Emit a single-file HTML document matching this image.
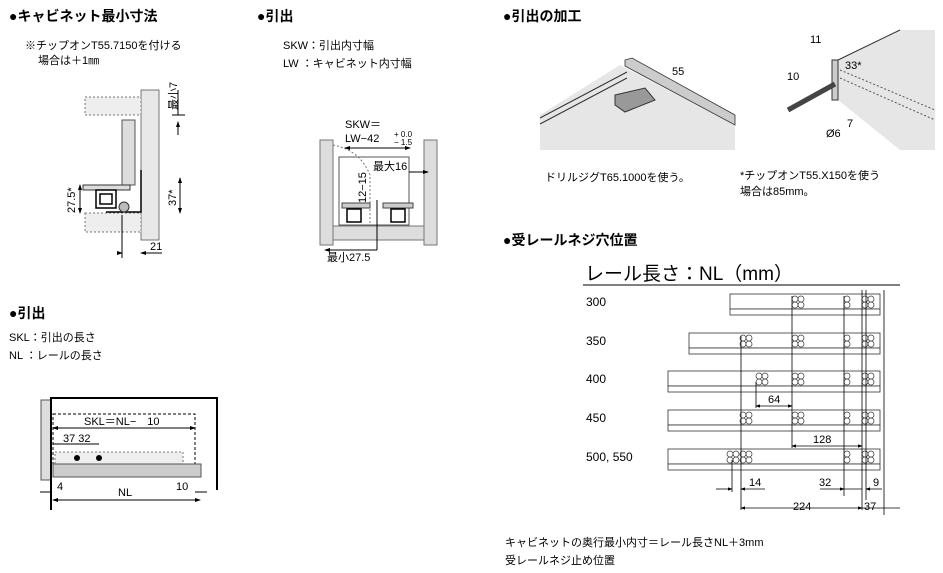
<!DOCTYPE html>
<html><head><meta charset="utf-8"><style>
body{margin:0;background:#fff;width:943px;height:573px;overflow:hidden}
svg{display:block;font-family:"Liberation Sans","Noto Sans CJK JP",sans-serif}
.t{font-weight:bold;font-size:14px}
.s{font-size:11px}
.d{font-size:11px}
</style></head><body>
<svg width="943" height="573" viewBox="0 0 943 573" xmlns="http://www.w3.org/2000/svg">
<defs>
<marker id="a" markerWidth="6" markerHeight="6" refX="5" refY="3" orient="auto"><path d="M0,1 L6,3 L0,5z" fill="#000"/></marker>
<marker id="b" markerWidth="6" markerHeight="6" refX="1" refY="3" orient="auto"><path d="M6,1 L0,3 L6,5z" fill="#000"/></marker>
</defs>
<!-- titles -->
<text x="9" y="21" class="t">●キャビネット最小寸法</text>
<text x="257" y="21" class="t">●引出</text>
<text x="503" y="21" class="t">●引出の加工</text>
<text x="503" y="245" class="t">●受レールネジ穴位置</text>
<text x="9" y="318" class="t">●引出</text>

<!-- section 1 -->
<text x="25" y="49" class="s">※チップオンT55.7150を付ける</text>
<text x="38" y="64" class="s">場合は＋1㎜</text>
<rect x="141" y="90" width="18" height="150" fill="#e8e8e8" stroke="#555" stroke-width="0.8"/>
<rect x="85" y="97" width="56" height="18" fill="#eee" stroke="#777" stroke-dasharray="2,2"/>
<rect x="85" y="213" width="56" height="19" fill="#eee" stroke="#777" stroke-dasharray="2,2"/>
<rect x="122" y="120" width="13" height="65" fill="#ddd" stroke="#555"/>
<path d="M83,185 L130,185 L130,190 L83,190z" fill="#ddd" stroke="#333"/>
<path d="M96,190 h20 v18 h-20z M100,194 h12 v10 h-12z" fill="#fff" stroke="#000" stroke-width="1.5"/>
<path d="M106,212 L141,212 L141,170" fill="none" stroke="#000" stroke-width="1.5"/>
<ellipse cx="124" cy="207" rx="5" ry="5" fill="#bbb" stroke="#333"/>
<line x1="178" y1="115" x2="178" y2="90" stroke="#000"/><line x1="172" y1="115" x2="185" y2="115" stroke="#000"/>
<text x="0" y="0" class="d" transform="translate(177,110) rotate(-90)">最小7</text>
<line x1="178" y1="122" x2="178" y2="135" stroke="#000" marker-start="url(#b)"/>
<line x1="80" y1="185" x2="80" y2="213" stroke="#000" marker-start="url(#b)" marker-end="url(#a)"/>
<text x="0" y="0" class="d" transform="translate(75,213) rotate(-90)">27.5*</text>
<line x1="180" y1="178" x2="180" y2="213" stroke="#000" marker-start="url(#b)" marker-end="url(#a)"/>
<text x="0" y="0" class="d" transform="translate(176,206) rotate(-90)">37*</text>
<line x1="122" y1="215" x2="122" y2="258" stroke="#000"/>
<line x1="118" y1="253" x2="122" y2="253" stroke="#000" marker-end="url(#a)"/>
<line x1="141" y1="253" x2="162" y2="253" stroke="#000" marker-start="url(#b)"/>
<text x="150" y="250" class="d">21</text>

<!-- section 2 -->
<text x="283" y="49" class="s">SKW：引出内寸幅</text>
<text x="283" y="67" class="s">LW ：キャビネット内寸幅</text>
<rect x="320" y="140" width="13" height="105" fill="#ddd" stroke="#777"/>
<rect x="424" y="140" width="13" height="105" fill="#ddd" stroke="#777"/>
<rect x="333" y="226" width="91" height="14" fill="#ddd" stroke="#777"/>
<rect x="339" y="157" width="70" height="68" fill="#fff" stroke="#555"/>
<path d="M333,145 Q360,150 370,175 L370,225" fill="none" stroke="#777" stroke-dasharray="2,2"/>
<rect x="342" y="203" width="28" height="5" fill="#ccc" stroke="#444"/>
<rect x="383" y="203" width="30" height="5" fill="#ccc" stroke="#444"/>
<rect x="347" y="209" width="14" height="13" fill="#fff" stroke="#000" stroke-width="1.5"/>
<rect x="391" y="209" width="14" height="13" fill="#fff" stroke="#000" stroke-width="1.5"/>
<text x="345" y="128" class="d">SKW＝</text>
<text x="345" y="142" class="d">LW−42</text>
<text x="394" y="137" font-size="8">+ 0.0</text>
<text x="394" y="145" font-size="8">− 1.5</text>
<line x1="345" y1="148" x2="410" y2="148" stroke="#000" marker-start="url(#b)" marker-end="url(#a)"/>
<text x="373" y="170" class="d">最大16</text>
<line x1="409" y1="172" x2="428" y2="172" stroke="#000" marker-end="url(#a)"/>
<text x="0" y="0" class="d" transform="translate(366,203) rotate(-90)">12−15</text>
<line x1="377" y1="200" x2="377" y2="250" stroke="#000"/>
<text x="327" y="261" class="d">最小27.5</text>
<line x1="325" y1="250" x2="377" y2="250" stroke="#000" marker-start="url(#b)"/>

<!-- section 3 -->
<polygon points="540,115 620,65 735,125 735,150 540,150" fill="#e6e6e6"/>
<polygon points="625,60 632,58 735,115 735,125 625,66" fill="#ccc" stroke="#333" stroke-width="0.8"/>
<line x1="540" y1="118" x2="627" y2="72" stroke="#333"/>
<line x1="540" y1="124" x2="627" y2="78" stroke="#333"/>
<path d="M615,95 L645,88 L655,100 L625,112 L615,105z" fill="#999" stroke="#333"/>
<text x="672" y="75" class="d">55</text>
<polygon points="837,60 900,30 935,30 935,150 900,150 838,100" fill="#e6e6e6"/>
<rect x="832" y="60" width="6" height="40" fill="#ccc" stroke="#333"/>
<line x1="838" y1="60" x2="900" y2="30" stroke="#333"/>
<line x1="840" y1="70" x2="935" y2="110" stroke="#555" stroke-dasharray="2,2"/>
<line x1="840" y1="78" x2="935" y2="120" stroke="#555" stroke-dasharray="2,2"/>
<line x1="788" y1="110" x2="835" y2="84" stroke="#444" stroke-width="5"/>
<text x="810" y="43" class="d">11</text>
<text x="787" y="80" class="d">10</text>
<text x="845" y="69" class="d">33*</text>
<text x="826" y="137" class="d">Ø6</text>
<text x="847" y="127" class="d">7</text>
<text x="545" y="181" class="s">ドリルジグT65.1000を使う。</text>
<text x="740" y="179" class="s">*チップオンT55.X150を使う</text>
<text x="740" y="195" class="s">場合は85mm。</text>

<!-- section 4 -->
<text x="585" y="280" font-size="19">レール長さ：NL（mm）</text>
<line x1="583" y1="285" x2="900" y2="285" stroke="#000"/>
<g font-size="12">
<text x="586" y="306">300</text><text x="586" y="345">350</text><text x="586" y="383">400</text><text x="586" y="422">450</text><text x="586" y="461">500, 550</text>
</g>
<g fill="#fff" stroke="#333" stroke-width="0.8">
<rect x="730" y="294" width="150" height="15"/><rect x="730" y="309" width="150" height="6"/>
<rect x="689" y="333" width="191" height="15"/><rect x="689" y="348" width="191" height="6"/>
<rect x="668" y="371" width="212" height="15"/><rect x="668" y="386" width="212" height="6"/>
<rect x="668" y="410" width="212" height="15"/><rect x="668" y="425" width="212" height="6"/>
<rect x="668" y="449" width="212" height="15"/><rect x="668" y="464" width="212" height="6"/>
</g>
<g fill="none" stroke="#444" stroke-width="0.8">
<circle cx="795" cy="299" r="3"/><circle cx="801" cy="299" r="3"/><circle cx="795" cy="305" r="3"/><circle cx="801" cy="305" r="3"/>
<circle cx="847" cy="299" r="3"/><circle cx="847" cy="305" r="3"/><circle cx="865" cy="299" r="3"/><circle cx="871" cy="299" r="3"/><circle cx="865" cy="305" r="3"/><circle cx="871" cy="305" r="3"/>
<circle cx="743" cy="338" r="3"/><circle cx="749" cy="338" r="3"/><circle cx="743" cy="344" r="3"/><circle cx="749" cy="344" r="3"/>
<circle cx="795" cy="338" r="3"/><circle cx="801" cy="338" r="3"/><circle cx="795" cy="344" r="3"/><circle cx="801" cy="344" r="3"/>
<circle cx="847" cy="338" r="3"/><circle cx="847" cy="344" r="3"/><circle cx="865" cy="338" r="3"/><circle cx="871" cy="338" r="3"/><circle cx="865" cy="344" r="3"/><circle cx="871" cy="344" r="3"/>
<circle cx="759" cy="376" r="3"/><circle cx="765" cy="376" r="3"/><circle cx="759" cy="382" r="3"/><circle cx="765" cy="382" r="3"/>
<circle cx="795" cy="376" r="3"/><circle cx="801" cy="376" r="3"/><circle cx="795" cy="382" r="3"/><circle cx="801" cy="382" r="3"/>
<circle cx="847" cy="376" r="3"/><circle cx="847" cy="382" r="3"/><circle cx="865" cy="376" r="3"/><circle cx="871" cy="376" r="3"/><circle cx="865" cy="382" r="3"/><circle cx="871" cy="382" r="3"/>
<circle cx="743" cy="415" r="3"/><circle cx="749" cy="415" r="3"/><circle cx="743" cy="421" r="3"/><circle cx="749" cy="421" r="3"/>
<circle cx="795" cy="415" r="3"/><circle cx="801" cy="415" r="3"/><circle cx="795" cy="421" r="3"/><circle cx="801" cy="421" r="3"/>
<circle cx="847" cy="415" r="3"/><circle cx="847" cy="421" r="3"/><circle cx="865" cy="415" r="3"/><circle cx="871" cy="415" r="3"/><circle cx="865" cy="421" r="3"/><circle cx="871" cy="421" r="3"/>
<circle cx="730" cy="454" r="3"/><circle cx="736" cy="454" r="3"/><circle cx="743" cy="454" r="3"/><circle cx="749" cy="454" r="3"/><circle cx="730" cy="460" r="3"/><circle cx="736" cy="460" r="3"/><circle cx="743" cy="460" r="3"/><circle cx="749" cy="460" r="3"/>
<circle cx="847" cy="454" r="3"/><circle cx="847" cy="460" r="3"/><circle cx="865" cy="454" r="3"/><circle cx="871" cy="454" r="3"/><circle cx="865" cy="460" r="3"/><circle cx="871" cy="460" r="3"/>
</g>
<g stroke="#000" stroke-width="0.8">
<line x1="741" y1="336" x2="741" y2="510"/>
<line x1="792" y1="296" x2="792" y2="448"/>
<line x1="844" y1="296" x2="844" y2="496"/>
<line x1="862" y1="290" x2="862" y2="510"/>
<line x1="866" y1="290" x2="866" y2="500"/>
<line x1="884" y1="290" x2="884" y2="515"/>
<line x1="732" y1="460" x2="732" y2="492"/>
<line x1="756" y1="382" x2="756" y2="408"/>
<line x1="756" y1="406" x2="792" y2="406" marker-start="url(#b)" marker-end="url(#a)"/>
<line x1="792" y1="446" x2="862" y2="446" marker-start="url(#b)" marker-end="url(#a)"/>
<line x1="716" y1="489" x2="732" y2="489" marker-end="url(#a)"/>
<line x1="741" y1="489" x2="765" y2="489" marker-start="url(#b)"/>
<line x1="820" y1="489" x2="844" y2="489" marker-end="url(#a)"/>
<line x1="844" y1="489" x2="862" y2="489"/>
<line x1="866" y1="489" x2="882" y2="489" marker-start="url(#b)"/>
<line x1="741" y1="508" x2="862" y2="508" marker-start="url(#b)" marker-end="url(#a)"/>
<line x1="862" y1="508" x2="900" y2="508"/>
</g>
<g class="d" font-size="12">
<text x="768" y="403">64</text><text x="813" y="443">128</text>
<text x="749" y="486">14</text><text x="819" y="486">32</text><text x="873" y="486">9</text>
<text x="793" y="510">224</text><text x="864" y="510">37</text>
</g>
<text x="505" y="546" class="s">キャビネットの奥行最小内寸＝レール長さNL＋3mm</text>
<text x="505" y="564" class="s">受レールネジ止め位置</text>

<!-- section 5 -->
<text x="9" y="341" class="s">SKL：引出の長さ</text>
<text x="9" y="359" class="s">NL ：レールの長さ</text>
<rect x="41" y="400" width="10" height="80" fill="#ddd" stroke="#555"/>
<path d="M51,510 V398 H217 V490" fill="none" stroke="#000" stroke-width="2"/>
<rect x="53" y="414" width="142" height="56" fill="none" stroke="#000" stroke-dasharray="3,2"/>
<rect x="55" y="452" width="128" height="14" fill="#eee" stroke="#777" stroke-dasharray="2,2"/>
<rect x="53" y="464" width="148" height="13" fill="#ccc" stroke="#555"/>
<circle cx="77" cy="458" r="3" fill="#000"/><circle cx="99" cy="458" r="3" fill="#000"/>
<line x1="53" y1="428" x2="195" y2="428" stroke="#000" marker-start="url(#b)" marker-end="url(#a)"/>
<text x="84" y="425" class="d">SKL＝NL−　10</text>
<text x="63" y="442" class="d">37 32</text>
<line x1="53" y1="444" x2="99" y2="444" stroke="#000"/>
<line x1="53" y1="500" x2="200" y2="500" stroke="#000" marker-start="url(#b)" marker-end="url(#a)"/>
<text x="118" y="496" class="d">NL</text>
<text x="57" y="490" class="d">4</text>
<text x="176" y="490" class="d">10</text>
<line x1="40" y1="492" x2="51" y2="492" stroke="#000"/>
<line x1="195" y1="492" x2="207" y2="492" stroke="#000"/>
</svg>
</body></html>
